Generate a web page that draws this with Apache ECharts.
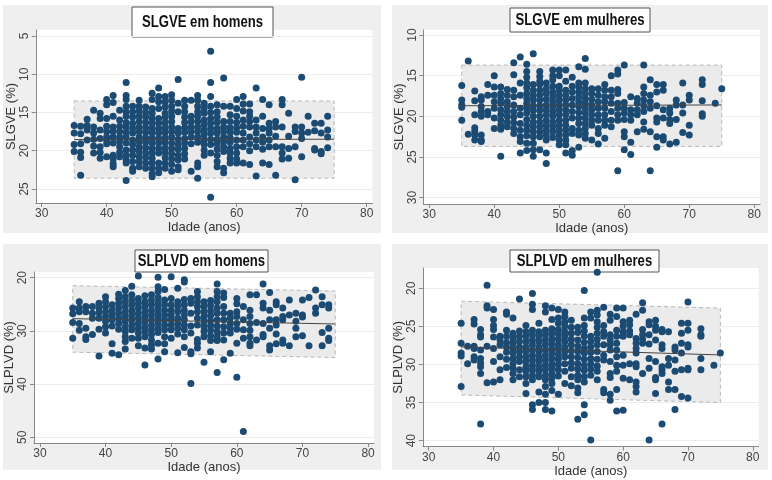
<!DOCTYPE html>
<html>
<head>
<meta charset="utf-8">
<script src="https://cdn.jsdelivr.net/npm/echarts@6/dist/echarts.min.js"></script>
<style>
  html, body { margin: 0; padding: 0; background: #fff; }
  #chart { width: 772px; height: 480px; }
</style>
</head>
<body>
<div id="chart"></div>
<script>
// pontos: [idade, [valores]]
var gveHomens = [
  [35, [16.7, 17.7, 19.2, 20.1]],
  [36, [16.8, 17.8, 19.1, 20.2, 20.9, 23.2]],
  [37, [15.9, 16.7, 17.3, 18.6]],
  [38, [14.7, 16.9, 17.7, 18.5, 19.4, 20.3]],
  [39, [15.1, 15.8, 17.3, 18.4, 19.5, 20.2, 21.0]],
  [40, [13.3, 14.0, 15.8, 16.8, 17.5, 18.2, 18.6, 19.1, 20.8]],
  [41, [12.8, 13.7, 15.5, 16.9, 17.5, 18.2, 19.0, 20.6, 21.1, 21.7, 22.1]],
  [42, [14.7, 16.0, 16.8, 17.5, 18.2, 18.8, 19.5, 20.2, 20.8]],
  [43, [11.1, 12.8, 13.3, 14.2, 14.9, 15.5, 16.3, 16.9, 17.6, 18.2, 19.0, 19.9, 20.6, 21.2, 21.6, 23.9]],
  [44, [14.2, 14.9, 15.6, 16.4, 17.1, 17.7, 18.6, 19.2, 19.9, 20.6, 21.4, 22.3, 22.7]],
  [45, [13.4, 14.2, 14.8, 15.5, 16.2, 16.9, 17.5, 18.2, 18.8, 19.5, 20.1, 20.8, 21.4, 22.1]],
  [46, [14.3, 15.0, 15.6, 16.3, 17.0, 17.6, 18.3, 18.9, 19.6, 20.3, 20.9, 21.6, 22.3]],
  [47, [12.5, 13.3, 14.5, 15.1, 15.8, 16.4, 17.1, 17.7, 18.4, 19.0, 19.7, 20.3, 21.0, 21.6, 22.3, 23.0, 23.4]],
  [48, [11.8, 12.9, 13.6, 14.5, 15.8, 16.4, 17.1, 17.7, 18.4, 19.0, 19.7, 20.3, 21.6, 22.3, 22.9]],
  [49, [12.9, 13.6, 14.3, 15.1, 15.6, 16.3, 17.0, 17.6, 18.3, 18.9, 19.6, 20.2, 20.9, 21.6, 22.3]],
  [50, [12.7, 13.4, 14.2, 14.8, 15.5, 16.2, 16.9, 17.5, 18.2, 19.0, 19.7, 20.4, 21.1, 21.8, 22.7]],
  [51, [10.7, 13.8, 14.9, 17.1, 17.7, 18.5, 19.2, 19.8, 20.6, 21.2, 22.1, 22.5]],
  [52, [13.4, 14.2, 14.9, 15.6, 16.3, 17.0, 17.6, 18.4, 19.0, 19.7, 20.4, 21.1]],
  [53, [13.4, 15.5, 16.2, 16.9, 17.5, 18.2, 19.1, 22.7]],
  [54, [12.8, 13.4, 14.2, 14.9, 15.5, 16.2, 16.9, 17.5, 18.2, 18.9, 21.6, 22.1, 23.6]],
  [55, [13.8, 14.5, 15.1, 16.0, 16.6, 17.3, 17.9, 18.6, 19.2, 19.9, 20.6]],
  [56, [7.0, 11.1, 12.9, 14.2, 15.0, 15.8, 16.4, 17.1, 17.7, 18.5, 19.2, 20.3, 26.1]],
  [57, [14.0, 14.9, 15.6, 16.3, 17.1, 17.7, 18.5, 19.1, 19.8, 20.6, 21.4, 22.1]],
  [58, [10.5, 14.2, 16.2, 16.9, 17.5, 18.2, 18.8, 19.5, 20.1, 22.3, 22.9]],
  [59, [14.2, 15.3, 16.2, 17.0, 17.6, 18.3, 18.9, 19.7, 20.3, 21.0, 21.6]],
  [60, [13.3, 14.5, 15.5, 16.3, 17.0, 17.6, 18.6, 19.5, 20.3, 21.1, 21.6]],
  [61, [12.9, 13.9, 14.8, 16.0, 16.8, 17.7, 18.6, 19.5, 21.6]],
  [62, [13.9, 14.9, 15.5, 16.2, 16.9, 18.2, 19.1, 20.0, 21.8]],
  [63, [11.8, 16.0, 16.9, 17.7, 18.6, 19.5, 23.3]],
  [64, [13.3, 15.5, 17.1, 18.2, 18.9, 19.8, 21.6]],
  [65, [14.0, 16.4, 17.1, 17.7, 18.6, 19.5, 21.8]],
  [66, [16.2, 16.9, 18.1, 19.5, 23.2]],
  [67, [13.3, 14.0, 16.9, 19.5, 20.3, 21.1]],
  [68, [15.1, 18.1, 19.7, 21.0]],
  [69, [16.9, 17.5, 19.5, 23.8]],
  [70, [10.4, 16.9, 17.7, 18.4, 20.8]],
  [71, [15.5, 17.6]],
  [72, [16.4, 17.4, 19.7, 19.9]],
  [73, [16.4, 17.7, 20.1, 20.4]],
  [74, [15.5, 17.3, 18.2, 19.6]]
];

var gveMulheres = [
  [35, [16.2, 18.0, 18.6, 18.9, 20.5]],
  [36, [13.2, 22.2]],
  [37, [16.9, 18.1, 19.8, 21.4, 21.8, 22.3, 22.9]],
  [38, [17.6, 18.0, 18.8, 19.4, 20.0, 22.3, 22.9, 23.1]],
  [39, [16.1, 17.4, 19.4, 19.8]],
  [40, [15.0, 16.4, 17.4, 18.2, 19.0, 20.2, 21.5]],
  [41, [16.4, 17.2, 17.8, 18.4, 19.2, 19.8, 20.5, 21.1, 21.6, 24.9]],
  [42, [16.7, 17.4, 18.2, 18.8, 19.4, 20.0, 20.7, 21.3]],
  [43, [13.4, 14.9, 16.8, 17.6, 18.6, 19.4, 20.1, 20.8, 21.5, 22.1]],
  [44, [12.7, 15.9, 17.4, 19.0, 19.8, 20.9, 21.7, 22.5, 23.1, 24.5]],
  [45, [13.6, 14.5, 15.2, 15.9, 16.5, 17.2, 17.8, 18.4, 19.0, 19.6, 20.4, 21.1, 21.7, 22.4, 23.3, 24.2]],
  [46, [12.3, 16.1, 16.8, 17.4, 18.0, 18.7, 19.3, 20.0, 20.7, 21.3, 21.9, 22.5, 23.3, 24.1, 24.9]],
  [47, [14.5, 15.1, 15.7, 16.1, 16.8, 17.4, 18.0, 18.7, 19.3, 20.0, 20.7, 21.3, 21.9, 22.5, 24.1]],
  [48, [15.9, 16.6, 17.2, 17.9, 18.6, 19.2, 19.8, 20.5, 21.1, 21.7, 22.3, 22.9, 24.5, 25.8]],
  [49, [14.3, 15.0, 15.5, 16.3, 17.0, 17.6, 18.2, 18.8, 19.4, 20.0, 20.7, 21.3, 21.9, 22.6]],
  [50, [14.3, 15.0, 16.3, 16.8, 17.4, 18.0, 18.6, 19.2, 19.8, 20.5, 21.1, 21.7, 22.3, 22.9, 23.5]],
  [51, [14.3, 15.7, 16.8, 17.4, 18.0, 18.6, 19.2, 19.8, 20.5, 21.1, 21.7, 22.3, 22.9, 23.5, 24.5]],
  [52, [15.2, 16.3, 17.0, 17.8, 18.6, 19.4, 20.2, 21.5, 22.1, 24.2, 24.8]],
  [53, [13.9, 15.9, 16.4, 17.0, 17.6, 18.2, 18.8, 19.5, 20.2, 20.9, 21.7, 22.3, 23.8]],
  [54, [12.9, 14.2, 15.9, 16.6, 17.2, 17.8, 18.4, 19.0, 19.6, 20.2, 20.9, 21.5, 22.1, 22.7]],
  [55, [16.6, 17.2, 17.9, 18.6, 19.2, 19.8, 20.5, 21.1, 22.9]],
  [56, [16.6, 17.4, 18.2, 19.0, 19.8, 20.5, 21.5, 22.1, 23.4]],
  [57, [16.1, 16.8, 17.6, 18.2, 19.0, 19.8, 20.5, 21.1, 22.7]],
  [58, [15.0, 16.8, 17.6, 18.4, 19.4, 20.5, 21.3]],
  [59, [14.3, 14.8, 16.7, 17.2, 18.4, 19.0, 19.8, 20.5, 26.7]],
  [60, [13.7, 18.3, 19.0, 19.6, 20.4, 21.9, 22.5, 24.1]],
  [61, [17.6, 19.2, 19.8, 20.5, 23.2, 24.7]],
  [62, [17.8, 18.4, 19.2, 19.8, 21.9]],
  [63, [13.7, 16.4, 17.2, 18.0, 18.7, 19.4, 20.7, 21.6]],
  [64, [15.5, 17.4, 18.2, 19.0, 21.9, 26.7]],
  [65, [16.1, 17.0, 18.7, 20.2, 20.7, 22.5, 23.8]],
  [66, [16.1, 16.8, 19.2, 20.2, 22.5, 22.9]],
  [67, [19.0, 19.6, 20.4, 20.9, 23.4]],
  [68, [18.0, 18.6, 20.4, 23.2]],
  [69, [15.9, 18.6, 19.6, 22.0]],
  [70, [17.4, 18.0, 21.1, 22.3]],
  [72, [15.5, 16.1, 18.1, 19.7, 20.0]],
  [74, [18.4]],
  [75, [16.6]]
];

var plvdHomens = [
  [35, [25.7, 26.8, 28.4, 31.4]],
  [36, [24.5, 25.7, 26.4, 28.6, 29.9]],
  [37, [25.4, 26.4, 29.5, 31.1, 31.6]],
  [38, [25.4, 26.7, 27.6, 30.7]],
  [39, [24.8, 25.7, 26.6, 27.6, 29.7, 34.7]],
  [40, [23.6, 24.5, 25.4, 26.4, 27.3, 28.2, 29.2, 30.4]],
  [41, [25.1, 26.1, 27.0, 27.9, 29.1, 32.4, 34.2]],
  [42, [23.1, 23.9, 24.8, 25.7, 26.7, 27.6, 28.6, 29.7, 34.5]],
  [43, [22.4, 23.6, 24.5, 25.4, 26.4, 27.3, 28.2, 29.2, 30.1, 31.1, 32.0, 33.4]],
  [44, [21.6, 23.2, 24.2, 25.1, 26.1, 27.0, 27.9, 28.9, 29.8, 31.4]],
  [45, [19.7, 23.9, 24.8, 25.7, 26.7, 27.6, 28.6, 29.5, 30.4, 31.4, 32.8]],
  [46, [23.4, 24.5, 25.4, 26.4, 27.3, 28.2, 29.2, 30.1, 31.1, 33.2, 36.4]],
  [47, [23.2, 24.2, 25.1, 26.1, 27.0, 27.9, 28.9, 29.8, 30.7, 31.7, 32.6, 33.4]],
  [48, [19.9, 21.7, 22.6, 23.7, 24.7, 25.6, 26.6, 27.5, 28.4, 29.4, 30.3, 32.3, 35.3]],
  [49, [22.2, 24.2, 25.1, 26.1, 27.0, 27.9, 28.9, 29.8, 31.1, 32.4, 33.9]],
  [50, [19.8, 23.9, 25.1, 26.1, 27.0, 27.9, 28.9, 29.8, 31.4]],
  [51, [22.0, 24.5, 25.4, 26.4, 27.6, 28.6, 29.5, 30.6, 34.1]],
  [52, [20.4, 20.8, 24.1, 25.1, 26.1, 27.0, 27.9, 28.9, 29.8, 31.1, 33.1]],
  [53, [23.9, 24.8, 26.7, 29.1, 30.4, 33.9, 34.3, 39.9]],
  [54, [22.6, 23.6, 24.5, 25.4, 26.4, 27.6, 28.9, 31.6, 32.3, 33.2]],
  [55, [24.5, 25.4, 26.4, 27.3, 28.2, 29.2, 30.1, 31.1, 35.9]],
  [56, [24.3, 25.2, 26.2, 27.1, 28.1, 29.0, 29.9, 30.9, 31.8, 33.9]],
  [57, [21.2, 22.6, 23.6, 24.5, 25.7, 26.7, 27.9, 29.1, 30.1, 31.1, 31.8, 37.8]],
  [58, [22.9, 23.7, 25.4, 26.7, 27.9, 29.2, 30.4, 31.7, 35.4]],
  [59, [26.7, 27.6, 28.6, 29.5, 30.4, 34.2]],
  [60, [23.9, 24.9, 26.4, 27.3, 28.6, 29.7, 32.3, 38.7]],
  [61, [25.4, 27.9, 29.8, 31.4, 48.9]],
  [62, [23.2, 26.1, 27.3, 28.6, 29.9, 31.1, 32.3, 32.8]],
  [63, [23.2, 28.4, 31.7]],
  [64, [21.2, 24.8, 25.7, 28.6, 30.7, 31.1]],
  [65, [22.8, 26.1, 27.9, 29.5, 32.8, 33.6]],
  [66, [24.5, 25.1, 27.9, 28.9, 30.6, 32.4]],
  [67, [25.7, 27.3, 27.9, 31.7, 32.3]],
  [68, [24.2, 27.0, 32.8]],
  [69, [26.7, 28.2, 29.5, 31.1]],
  [70, [24.2, 27.0, 27.4, 30.9]],
  [71, [23.7, 32.8]],
  [72, [22.3, 25.7, 26.7]],
  [73, [23.6, 25.1, 30.3, 32.8]],
  [74, [25.1, 25.7, 29.5, 31.4, 31.8]]
];

var plvdMulheres = [
  [35, [24.6, 27.2, 28.5, 28.9, 32.9]],
  [36, [27.6, 29.9]],
  [37, [24.1, 24.7, 27.6, 27.9, 29.0, 29.4]],
  [38, [25.4, 26.1, 26.4, 28.1, 29.2, 29.8, 30.3, 31.2, 37.8]],
  [39, [19.6, 22.3, 22.6, 27.6, 32.4]],
  [40, [22.8, 24.1, 24.9, 25.4, 26.4, 27.9, 29.6, 32.3]],
  [41, [26.3, 26.8, 27.4, 29.0, 30.7, 32.0]],
  [42, [23.1, 23.4, 25.5, 26.3, 27.1, 27.7, 28.4, 29.3, 30.4]],
  [43, [23.9, 25.9, 26.6, 27.2, 27.9, 28.5, 29.2, 29.9, 30.5, 31.2, 32.0]],
  [44, [21.4, 25.6, 26.3, 27.0, 27.7, 28.3, 29.0, 29.6, 30.7, 31.6]],
  [45, [24.9, 25.7, 26.3, 27.0, 27.7, 28.3, 29.0, 29.6, 30.3, 30.9, 31.6, 32.5, 33.8]],
  [46, [20.7, 22.1, 22.8, 25.5, 26.1, 26.8, 27.4, 28.1, 28.8, 29.4, 30.1, 30.7, 31.4, 32.0, 35.3, 35.9]],
  [47, [24.6, 25.7, 26.3, 27.0, 27.7, 28.3, 29.0, 29.6, 30.3, 30.9, 31.6, 33.6, 35.0]],
  [48, [22.3, 23.1, 25.5, 26.1, 26.8, 27.4, 28.1, 28.8, 29.4, 30.1, 30.7, 31.4, 32.0, 32.9, 33.9, 35.0, 35.9]],
  [49, [22.6, 24.1, 25.3, 25.9, 26.6, 27.2, 27.9, 28.5, 29.2, 29.9, 30.5, 31.2, 31.8, 32.5, 33.4, 36.1]],
  [50, [22.8, 23.9, 24.6, 25.4, 26.0, 26.7, 27.4, 28.0, 28.7, 29.3, 30.0, 30.7, 31.5, 33.9]],
  [51, [23.1, 23.7, 24.4, 25.0, 25.7, 26.3, 27.0, 27.7, 28.3, 29.0, 29.9, 30.9, 32.5]],
  [52, [24.2, 25.1, 25.9, 26.7, 27.4, 28.2, 29.0, 29.8, 30.5, 31.6, 32.8]],
  [53, [25.1, 25.8, 26.8, 27.6, 28.3, 29.1, 29.9, 30.6, 31.4, 32.0, 33.1, 33.7, 37.2]],
  [54, [20.3, 23.9, 24.9, 25.6, 26.3, 27.1, 27.9, 28.5, 29.3, 30.1, 30.8, 31.6, 32.3, 35.3, 36.6]],
  [55, [23.1, 23.9, 26.3, 27.0, 27.7, 28.4, 29.2, 29.9, 30.6, 31.4, 39.9]],
  [56, [17.9, 22.9, 23.5, 24.4, 25.1, 25.9, 26.7, 27.4, 28.3, 29.3, 30.2, 30.9, 32.0]],
  [57, [22.5, 24.9, 25.7, 26.3, 27.4, 28.8, 29.4, 33.3, 33.7]],
  [58, [23.4, 24.2, 26.1, 26.8, 27.4, 28.1, 29.6, 31.2, 31.7, 33.9, 34.7]],
  [59, [22.6, 23.7, 25.5, 26.3, 27.2, 28.1, 29.0, 30.1, 30.9, 33.3, 36.1]],
  [60, [22.6, 24.4, 25.0, 25.7, 26.3, 28.8, 30.1, 31.8, 36.0]],
  [61, [24.2, 24.8, 25.6, 26.1, 29.9, 32.0]],
  [62, [23.4, 26.6, 27.2, 27.9, 28.5, 29.9, 30.3, 32.3, 32.9, 33.6]],
  [63, [21.9, 22.9, 25.4, 26.1, 26.7, 27.2, 31.2]],
  [64, [24.4, 24.8, 26.1, 27.3, 29.2, 30.5, 39.9]],
  [65, [24.2, 25.0, 25.5, 26.8, 29.6, 31.7, 32.0, 33.8]],
  [66, [25.4, 25.7, 27.4, 27.9, 30.3, 30.7, 31.2, 37.8]],
  [67, [25.7, 29.2, 30.1, 32.3, 33.3]],
  [68, [27.7, 28.1, 29.4, 30.9, 33.3, 35.9]],
  [69, [24.6, 25.9, 27.2, 28.5, 30.7, 34.2]],
  [70, [21.8, 24.6, 25.5, 27.4, 27.7, 30.5, 30.7, 34.4]],
  [72, [25.3, 26.1, 26.3, 29.2, 30.7]],
  [74, [30.1]],
  [75, [28.5]]
];

// faixa cinza e reta ajustada: [idade inicial, idade final]
var bandAges = [35, 75];
var gveHomensUpper = [13.5, 13.5], gveHomensLower = [23.6, 23.6], gveHomensFit = [18.55, 18.5];
var gveMulheresUpper = [13.7, 13.7], gveMulheresLower = [23.7, 23.7], gveMulheresFit = [18.7, 18.6];
var plvdHomensUpper = [21.5, 22.5], plvdHomensLower = [34.0, 35.0], plvdHomensFit = [27.7, 28.7];
var plvdMulheresUpper = [21.7, 22.6], plvdMulheresLower = [34.0, 35.0], plvdMulheresFit = [27.7, 28.75];

var xTicks = [30, 40, 50, 60, 70, 80];
var gveHomensTicks = [5, 10, 15, 20, 25];
var gveMulheresTicks = [10, 15, 20, 25, 30];
var plvdHomensTicks = [20, 30, 40, 50];
var plvdMulheresTicks = [20, 25, 30, 35, 40];

var FONT = "'Liberation Sans', Arial, sans-serif";
var NAVY = '#1b4a73';

var panels = [
  { title: 'SLGVE em homens', yName: 'SLGVE (%)', cols: gveHomens, upper: gveHomensUpper, lower: gveHomensLower, fit: gveHomensFit,
    ticks: gveHomensTicks, yMin: 4.22, yMax: 26.84,
    bg: [3, 5, 378, 228], grid: [35.8, 30, 336.7, 173], box: [132, 7, 141, 30] },
  { title: 'SLGVE em mulheres', yName: 'SLGVE (%)', cols: gveMulheres, upper: gveMulheresUpper, lower: gveMulheresLower, fit: gveMulheresFit,
    ticks: gveMulheresTicks, yMin: 9.38, yMax: 30.79,
    bg: [392, 5, 376, 228], grid: [423.4, 30, 336.7, 174], box: [510, 8, 140, 24] },
  { title: 'SLPLVD em homens', yName: 'SLPLVD (%)', cols: plvdHomens, upper: plvdHomensUpper, lower: plvdHomensLower, fit: plvdHomensFit,
    ticks: plvdHomensTicks, yMin: 18.93, yMax: 51.07,
    bg: [3, 244, 378, 226], grid: [34, 272, 340, 171], box: [135, 250, 133, 22] },
  { title: 'SLPLVD em mulheres', yName: 'SLPLVD (%)', cols: plvdMulheres, upper: plvdMulheresUpper, lower: plvdMulheresLower, fit: plvdMulheresFit,
    ticks: plvdMulheresTicks, yMin: 17.34, yMax: 40.79,
    bg: [392, 244, 376, 226], grid: [422.9, 268, 335.7, 178.7], box: [510, 250, 149, 22] }
];

function toPoints(cols) {
  var pts = [];
  cols.forEach(function (c) {
    c[1].forEach(function (v) { pts.push([c[0], v]); });
  });
  return pts;
}

var grids = [], xAxes = [], yAxes = [], series = [], graphics = [];

panels.forEach(function (p, i) {
  graphics.push({
    type: 'rect', z: -10, silent: true,
    shape: { x: p.bg[0], y: p.bg[1], width: p.bg[2], height: p.bg[3] },
    style: { fill: '#efefef' }
  });
  graphics.push({
    type: 'group', z: 100,
    children: [
      { type: 'rect', shape: { x: p.box[0], y: p.box[1], width: p.box[2], height: p.box[3] },
        style: { fill: '#fff', stroke: '#555', lineWidth: 1 } },
      { type: 'text', x: p.box[0] + p.box[2] / 2, y: p.box[1] + p.box[3] / 2 + 0.5,
        scaleX: 0.82, originX: 0,
        style: { text: p.title, font: 'bold 16px ' + FONT, fill: '#111', align: 'center', verticalAlign: 'middle' } }
    ]
  });

  grids.push({
    left: p.grid[0], top: p.grid[1], width: p.grid[2], height: p.grid[3],
    show: true, backgroundColor: '#fff', borderWidth: 0
  });

  xAxes.push({
    gridIndex: i, type: 'value', min: 29.1, max: 80.9,
    name: 'Idade (anos)', nameLocation: 'middle', nameGap: 13,
    nameTextStyle: { fontFamily: FONT, fontSize: 13, color: '#333' },
    axisLine: { onZero: false, lineStyle: { color: '#888', width: 1 } },
    axisTick: { customValues: xTicks, length: 4, lineStyle: { color: '#888' } },
    axisLabel: { customValues: xTicks, fontFamily: FONT, fontSize: 12, color: '#444', margin: 5 },
    splitLine: { show: false }
  });

  yAxes.push({
    gridIndex: i, type: 'value', inverse: true, min: p.yMin, max: p.yMax,
    name: p.yName, nameLocation: 'middle', nameGap: 17,
    nameTextStyle: { fontFamily: FONT, fontSize: 13, color: '#333' },
    axisLine: { show: true, onZero: false, lineStyle: { color: '#888', width: 1 } },
    axisTick: { show: true, customValues: p.ticks, length: 4, lineStyle: { color: '#888' } },
    axisLabel: { customValues: p.ticks, rotate: 90, fontFamily: FONT, fontSize: 12, color: '#444', margin: 5 },
    splitLine: { show: true, lineStyle: { color: '#ececec', width: 1 } }
  });

  series.push({
    type: 'custom', xAxisIndex: i, yAxisIndex: i, silent: true, z: 1,
    data: bandAges.map(function (a, k) { return [a, p.upper[k], p.lower[k]]; }),
    encode: { x: 0, y: [1, 2] },
    renderItem: function (params, api) {
      if (params.dataIndex !== 0) return;
      var pts = [];
      bandAges.forEach(function (a, k) { pts.push(api.coord([a, p.upper[k]])); });
      for (var k = bandAges.length - 1; k >= 0; k--) pts.push(api.coord([bandAges[k], p.lower[k]]));
      return {
        type: 'polygon', shape: { points: pts },
        style: { fill: '#ebebeb', stroke: '#b8b8b8', lineWidth: 1, lineDash: [4, 3] }
      };
    }
  });

  series.push({
    type: 'scatter', xAxisIndex: i, yAxisIndex: i, z: 3,
    symbolSize: 7, itemStyle: { color: NAVY, opacity: 1 },
    data: toPoints(p.cols)
  });

  series.push({
    type: 'line', xAxisIndex: i, yAxisIndex: i, z: 4, symbol: 'none', silent: true,
    lineStyle: { color: '#444', width: 1 },
    data: bandAges.map(function (a, k) { return [a, p.fit[k]]; })
  });
});

var chart = echarts.init(document.getElementById('chart'));
chart.setOption({
  animation: false,
  backgroundColor: '#fff',
  textStyle: { fontFamily: FONT },
  graphic: graphics,
  grid: grids,
  xAxis: xAxes,
  yAxis: yAxes,
  series: series
});
</script>
</body>
</html>
